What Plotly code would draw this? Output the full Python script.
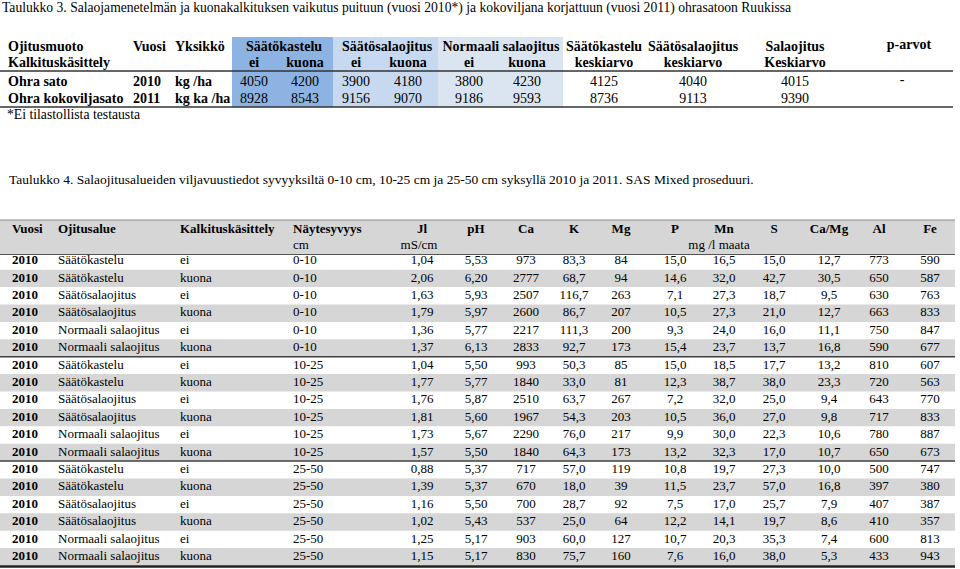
import plotly.graph_objects as go

# ---- Taulukko 3 data ----
t3_title = ("Taulukko 3. Salaojamenetelmän ja kuonakalkituksen vaikutus puituun (vuosi 2010*) "
            "ja kokoviljana korjattuun (vuosi 2011) ohrasatoon Ruukissa")
t3_rows = ["Ohra sato", "Ohra kokoviljasato"]
t3_years = ["2010", "2011"]
t3_units = ["kg /ha", "kg ka /ha"]
t3_groups = ["Säätökastelu", "Säätösalaojitus", "Normaali salaojitus"]
t3_treat = ["ei", "kuona", "ei", "kuona", "ei", "kuona"]
t3_values = [
    [4050, 8928],  # Säätökastelu ei
    [4200, 8543],  # Säätökastelu kuona
    [3900, 9156],  # Säätösalaojitus ei
    [4180, 9070],  # Säätösalaojitus kuona
    [3800, 9186],  # Normaali ei
    [4230, 9593],  # Normaali kuona
]
t3_mean_head1 = ["Säätökastelu", "Säätösalaojitus", "Salaojitus"]
t3_mean_head2 = ["keskiarvo", "keskiarvo", "Keskiarvo"]
t3_means = [
    [4125, 8736],
    [4040, 9113],
    [4015, 9390],
]
t3_p = ["-", ""]
t3_note = "*Ei tilastollista testausta"

# ---- Taulukko 4 data ----
t4_title = ("Taulukko 4. Salaojitusalueiden viljavuustiedot syvyyksiltä 0-10 cm, 10-25 cm ja 25-50 cm "
            "syksyllä 2010 ja 2011. SAS Mixed proseduuri.")
vuosi = ["2010"] * 18
ojitusalue = ["Säätökastelu", "Säätökastelu", "Säätösalaojitus", "Säätösalaojitus",
              "Normaali salaojitus", "Normaali salaojitus"] * 3
kalkitus = ["ei", "kuona"] * 9
syvyys = ["0-10"] * 6 + ["10-25"] * 6 + ["25-50"] * 6
jl = ["1,04", "2,06", "1,63", "1,79", "1,36", "1,37", "1,04", "1,77", "1,76", "1,81", "1,73", "1,57",
      "0,88", "1,39", "1,16", "1,02", "1,25", "1,15"]
ph = ["5,53", "6,20", "5,93", "5,97", "5,77", "6,13", "5,50", "5,77", "5,87", "5,60", "5,67", "5,50",
      "5,37", "5,37", "5,50", "5,43", "5,17", "5,17"]
ca = ["973", "2777", "2507", "2600", "2217", "2833", "993", "1840", "2510", "1967", "2290", "1840",
      "717", "670", "700", "537", "903", "830"]
k = ["83,3", "68,7", "116,7", "86,7", "111,3", "92,7", "50,3", "33,0", "63,7", "54,3", "76,0", "64,3",
     "57,0", "18,0", "28,7", "25,0", "60,0", "75,7"]
mg = ["84", "94", "263", "207", "200", "173", "85", "81", "267", "203", "217", "173",
      "119", "39", "92", "64", "127", "160"]
p = ["15,0", "14,6", "7,1", "10,5", "9,3", "15,4", "15,0", "12,3", "7,2", "10,5", "9,9", "13,2",
     "10,8", "11,5", "7,5", "12,2", "10,7", "7,6"]
mn = ["16,5", "32,0", "27,3", "27,3", "24,0", "23,7", "18,5", "38,7", "32,0", "36,0", "30,0", "32,3",
      "19,7", "23,7", "17,0", "14,1", "20,3", "16,0"]
s = ["15,0", "42,7", "18,7", "21,0", "16,0", "13,7", "17,7", "38,0", "25,0", "27,0", "22,3", "17,0",
     "27,3", "57,0", "25,7", "19,7", "35,3", "38,0"]
camg = ["12,7", "30,5", "9,5", "12,7", "11,1", "16,8", "13,2", "23,3", "9,4", "9,8", "10,6", "10,7",
        "10,0", "16,8", "7,9", "8,6", "7,4", "5,3"]
al = ["773", "650", "630", "663", "750", "590", "810", "720", "643", "717", "780", "650",
      "500", "397", "407", "410", "600", "433"]
fe = ["590", "587", "763", "833", "847", "677", "607", "563", "770", "833", "887", "673",
      "747", "380", "387", "357", "813", "943"]

FONT = "Liberation Serif"
W, H = 960, 569

fig = go.Figure()


def add_text(xs, ys, texts, pos="middle center", size=13, bold=False, color="#000000"):
    if bold:
        texts = ["<b>" + t + "</b>" if t else t for t in texts]
    fig.add_trace(go.Scatter(
        x=xs, y=ys, text=texts, mode="text", textposition=pos,
        textfont=dict(family=FONT, size=size, color=color),
        hoverinfo="skip", showlegend=False, cliponaxis=False,
    ))


def rect(x0, x1, y0, y1, color):
    fig.add_shape(type="rect", xref="x", yref="y", x0=x0, x1=x1, y0=y0, y1=y1,
                  fillcolor=color, line_width=0, layer="below")


def hline(y, x0, x1, color, width):
    fig.add_shape(type="line", xref="x", yref="y", x0=x0, x1=x1, y0=y, y1=y,
                  line=dict(color=color, width=width), layer="above")


# ---------------- Taulukko 3 ----------------
add_text([2], [8.5], [t3_title], pos="middle right", size=13.6)

h1, h2 = 47, 63
r3 = [82, 99]
blue = ["#8DB3E2", "#C6D9F1", "#DBE5F1"]
blocks = [(232, 333), (333, 438), (438, 563)]
for (bx0, bx1), c in zip(blocks, blue):
    rect(bx0, bx1, 37, 107, c)

add_text([8, 133, 175], [h1, h1, h1], ["Ojitusmuoto", "Vuosi", "Yksikkö"],
         pos="middle right", size=14, bold=True)
add_text([8], [h2], ["Kalkituskäsittely"], pos="middle right", size=14, bold=True)
grp_x = [284, 387, 501]
add_text(grp_x, [h1] * 3, t3_groups, size=14, bold=True)
treat_x = [254, 305, 356, 408, 469, 527]
add_text(treat_x, [h2] * 6, t3_treat, size=14, bold=True)
mean_x = [604, 693, 795]
add_text(mean_x, [h1] * 3, t3_mean_head1, size=14, bold=True)
add_text(mean_x, [h2] * 3, t3_mean_head2, size=14, bold=True)
add_text([909], [45], ["p-arvot"], size=14, bold=True)
hline(71, 0, 953, "#333333", 1.5)

add_text([8] * 2, r3, t3_rows, pos="middle right", size=14, bold=True)
add_text([133] * 2, r3, t3_years, pos="middle right", size=14, bold=True)
add_text([175] * 2, r3, t3_units, pos="middle right", size=14, bold=True)
for xc, vals in zip(treat_x, t3_values):
    add_text([xc] * 2, r3, [str(v) for v in vals], size=14)
for xc, vals in zip(mean_x, t3_means):
    add_text([xc] * 2, r3, [str(v) for v in vals], size=14)
add_text([902] * 2, [80, 97], t3_p, size=14)
hline(107, 0, 953, "#333333", 1.5)
add_text([7], [116], [t3_note], pos="middle right", size=13.7)

# ---------------- Taulukko 4 ----------------
add_text([9], [181], [t4_title], pos="middle right", size=13.5)

y0, pitch = 261, 17.4
ys = [y0 + i * pitch for i in range(len(vuosi))]
GRAY = "#D6D6D6"
rect(0, 955, 220, 254.5, GRAY)
for i, y in enumerate(ys):
    if i % 2 == 1:
        rect(0, 955, y - pitch / 2, y + pitch / 2, GRAY)

hline(220, 0, 955, "#8C8C8C", 1.2)
hline(254.5, 0, 955, "#555555", 1)
hline(ys[5] + pitch / 2, 0, 955, "#404040", 1.5)
hline(ys[11] + pitch / 2, 0, 955, "#404040", 1.5)
hline(ys[-1] + pitch / 2 + 1, 0, 955, "#202020", 2.5)

hy1, hy2 = 230, 246
add_text([12, 58, 180, 293], [hy1] * 4, ["Vuosi", "Ojitusalue", "Kalkituskäsittely", "Näytesyvyys"],
         pos="middle right", size=13, bold=True)
num_heads = ["Jl", "pH", "Ca", "K", "Mg", "P", "Mn", "S", "Ca/Mg", "Al", "Fe"]
num_x = [422, 476, 526, 574, 621, 675, 724, 774, 829, 879, 930]
add_text(num_x, [hy1] * len(num_x), num_heads, size=13, bold=True)
add_text([293], [hy2], ["cm"], pos="middle right", size=13)
add_text([419, 719], [hy2, hy2], ["mS/cm", "mg /l maata"], size=13)

add_text([12] * len(ys), ys, vuosi, pos="middle right", size=13, bold=True)
add_text([58] * len(ys), ys, ojitusalue, pos="middle right", size=13)
add_text([180] * len(ys), ys, kalkitus, pos="middle right", size=13)
add_text([293] * len(ys), ys, syvyys, pos="middle right", size=13)
for xc, col in zip(num_x, [jl, ph, ca, k, mg, p, mn, s, camg, al, fe]):
    add_text([xc] * len(ys), ys, col, size=13)

fig.update_layout(
    width=W, height=H,
    margin=dict(l=0, r=0, t=0, b=0),
    paper_bgcolor="white", plot_bgcolor="white",
    xaxis=dict(range=[0, W], visible=False, fixedrange=True),
    yaxis=dict(range=[H, 0], visible=False, fixedrange=True),
    showlegend=False,
)

# the page's default body margin would push the figure 8px down and right
fig.write_html("out.html", config={"displayModeBar": False},
               post_script="document.body.style.margin = '0';")
